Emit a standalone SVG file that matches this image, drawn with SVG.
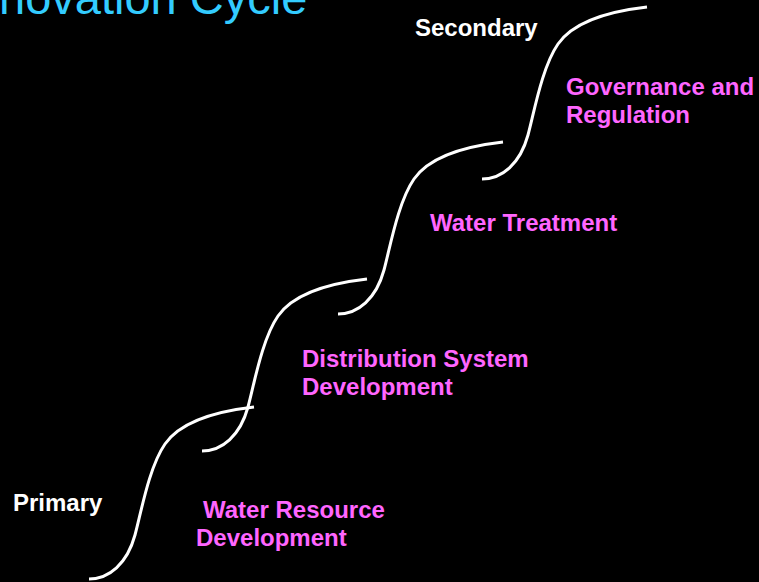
<svg xmlns="http://www.w3.org/2000/svg" width="759" height="582" viewBox="0 0 759 582">
<defs>
<style>
.bg{fill:#000}
.curve{fill:none;stroke:#fff;stroke-width:3;stroke-linecap:butt}
.lbl{font-family:"Liberation Sans",Arial,sans-serif;font-weight:bold;font-size:24px}
.w{fill:#fff}
.p{fill:#FF66FF}
.title{font-family:"Liberation Sans",Arial,sans-serif;font-size:47px;fill:#33CCFF}
</style>
<path id="s" d="M0,0 C20,0 38,-15 46,-44 C52,-66 60,-112 76,-135 C92,-158 130,-168 165,-172"/>
</defs>
<rect class="bg" x="0" y="0" width="759" height="582"/>
<text id="title" class="title" x="-1" y="14">novation Cycle</text>
<g id="connectors">
<use href="#s" class="curve" transform="translate(89,579)"/>
<use href="#s" class="curve" transform="translate(202,451)"/>
<use href="#s" class="curve" transform="translate(338,314)"/>
<use href="#s" class="curve" transform="translate(482,179)"/>
</g>
<g id="secondary"><text class="lbl w" x="415" y="36">Secondary</text></g>
<g id="primary"><text class="lbl w" x="13" y="511">Primary</text></g>
<g id="governance"><text class="lbl p" x="566" y="95">Governance and</text><text class="lbl p" x="566" y="123">Regulation</text></g>
<g id="treatment"><text class="lbl p" x="430" y="231">Water Treatment</text></g>
<g id="distribution"><text class="lbl p" x="302" y="367">Distribution System</text><text class="lbl p" x="302" y="395">Development</text></g>
<g id="resource"><text class="lbl p" x="203" y="518">Water Resource</text><text class="lbl p" x="196" y="546">Development</text></g>
</svg>
